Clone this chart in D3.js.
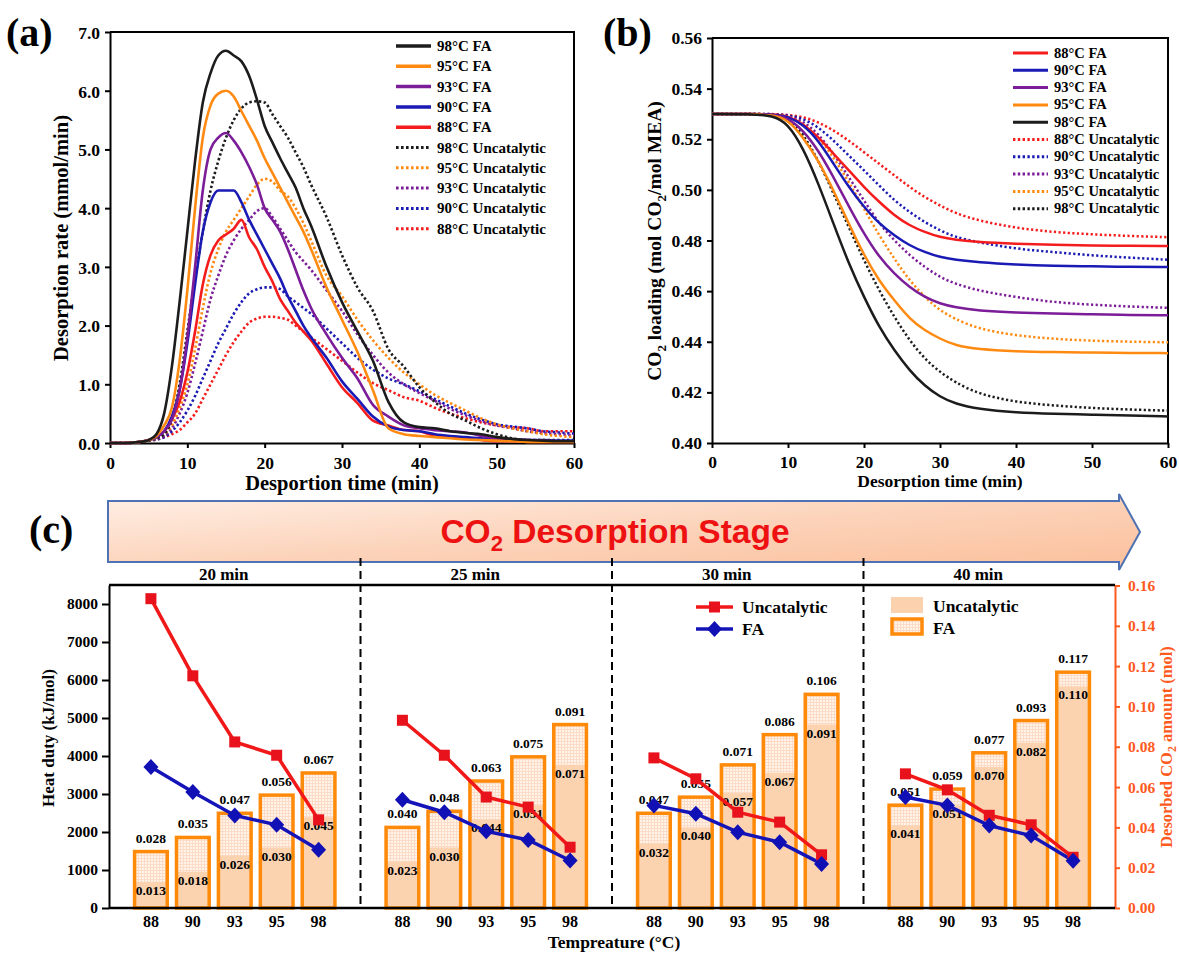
<!DOCTYPE html>
<html><head><meta charset="utf-8">
<script src="https://cdn.jsdelivr.net/npm/d3@7"></script>
<style>body{margin:0;background:#fff}svg{display:block}</style>
</head><body>
<script>
// ---------- Panel (a) data: desorption rate (mmol/min) ----------
const timesA = [0,2,4,5,6,7,8,9,10,11,12,13,14,15,16,17,18,19,20,21,22,23,24,25,26,28,30,32,34,36,38,40,42,44,46,48,50,52,54,56,58,60];
const rateFA98 = [0,0,0.02,0.05,0.15,0.5,1.3,2.4,3.6,4.8,5.8,6.3,6.6,6.68,6.6,6.5,6.25,5.85,5.4,5.12,4.85,4.6,4.35,4.0,3.7,3.0,2.4,1.9,1.4,0.7,0.35,0.27,0.25,0.2,0.17,0.15,0.1,0.07,0.05,0.04,0.03,0.03];
const rateFA95 = [0,0,0.02,0.05,0.12,0.3,0.6,1.4,2.6,4.0,5.2,5.75,5.95,6.0,5.9,5.65,5.4,5.15,4.85,4.6,4.35,4.1,3.85,3.6,3.3,2.65,2.1,1.55,0.9,0.25,0.15,0.12,0.1,0.08,0.06,0.05,0.04,0.03,0.02,0.02,0.02,0.02];
const rateFA93 = [0,0,0.02,0.05,0.1,0.2,0.4,0.9,1.8,3.0,4.3,5.0,5.2,5.28,5.15,4.95,4.7,4.4,4.0,3.8,3.6,3.3,2.95,2.6,2.3,1.85,1.45,1.1,0.65,0.45,0.3,0.25,0.22,0.2,0.18,0.12,0.08,0.06,0.05,0.04,0.03,0.03];
const rateFA90 = [0,0,0.02,0.05,0.1,0.2,0.45,0.9,1.7,2.7,3.6,4.1,4.3,4.3,4.3,4.1,3.8,3.55,3.3,3.05,2.8,2.5,2.25,2.0,1.8,1.45,1.05,0.75,0.45,0.28,0.22,0.2,0.15,0.12,0.1,0.08,0.06,0.06,0.05,0.05,0.04,0.04];
const rateFA88 = [0,0,0.02,0.05,0.1,0.2,0.4,0.7,1.2,1.9,2.7,3.2,3.45,3.55,3.65,3.8,3.5,3.3,3.0,2.75,2.45,2.25,2.05,1.9,1.75,1.35,0.95,0.68,0.38,0.3,0.22,0.2,0.12,0.1,0.08,0.05,0.03,0.03,0.02,0.02,0.02,0.02];
const rateUnc98 = [0,0,0.02,0.04,0.08,0.15,0.4,1.0,1.9,2.8,3.6,4.3,4.8,5.2,5.5,5.7,5.8,5.82,5.8,5.6,5.4,5.2,4.95,4.7,4.4,3.85,3.2,2.65,2.25,1.6,1.3,0.95,0.7,0.5,0.38,0.25,0.15,0.08,0.05,0.05,0.05,0.05];
const rateUnc95 = [0,0,0.02,0.04,0.08,0.15,0.3,0.6,1.0,1.6,2.3,2.9,3.3,3.6,3.8,4.0,4.2,4.4,4.5,4.45,4.3,4.2,4.0,3.75,3.45,2.85,2.5,2.1,1.75,1.45,1.2,1.0,0.82,0.68,0.55,0.42,0.32,0.25,0.2,0.15,0.12,0.1];
const rateUnc93 = [0,0,0.02,0.04,0.07,0.12,0.25,0.5,0.85,1.35,1.9,2.45,2.85,3.2,3.45,3.65,3.8,3.95,4.0,3.85,3.65,3.45,3.25,3.1,2.95,2.6,2.25,1.85,1.5,1.2,1.0,0.85,0.72,0.58,0.47,0.37,0.3,0.25,0.2,0.17,0.15,0.13];
const rateUnc90 = [0,0,0.02,0.04,0.06,0.1,0.2,0.35,0.55,0.8,1.1,1.4,1.7,1.95,2.2,2.4,2.55,2.62,2.65,2.65,2.62,2.5,2.4,2.3,2.2,1.95,1.7,1.45,1.25,1.1,1.0,0.88,0.75,0.62,0.5,0.4,0.32,0.28,0.25,0.2,0.18,0.16];
const rateUnc88 = [0,0,0.02,0.04,0.06,0.1,0.15,0.22,0.35,0.5,0.75,1.0,1.25,1.5,1.72,1.9,2.05,2.12,2.15,2.15,2.13,2.1,2.0,1.9,1.8,1.6,1.4,1.2,1.02,0.9,0.78,0.72,0.6,0.5,0.42,0.35,0.3,0.27,0.25,0.2,0.2,0.2];
const ticksAx = [0,10,20,30,40,50,60];
const ticksAy = [0,1,2,3,4,5,6,7];

// ---------- Panel (b) data: CO2 loading ----------
const timesB = [0,5,8,10,12,14,16,18,20,22,24,26,28,30,32,35,40,45,50,55,60];
const loadFA88 = [0.53,0.53,0.5298,0.5292,0.5261,0.5208,0.5143,0.5077,0.5011,0.4952,0.4899,0.4859,0.4833,0.4813,0.4803,0.4793,0.4787,0.4783,0.478,0.4779,0.4778];
const loadFA90 = [0.53,0.53,0.5298,0.5291,0.5258,0.5195,0.5103,0.5011,0.4932,0.4866,0.482,0.478,0.4754,0.4734,0.4724,0.4714,0.4705,0.47,0.4698,0.4696,0.4695];
const loadFA93 = [0.53,0.53,0.5297,0.5285,0.5235,0.5156,0.505,0.4935,0.4826,0.4734,0.4668,0.4615,0.4576,0.455,0.4536,0.4523,0.4515,0.4511,0.4508,0.4506,0.4505];
const loadFA95 = [0.53,0.53,0.5296,0.5278,0.5208,0.5116,0.4998,0.4866,0.4742,0.464,0.4563,0.449,0.4444,0.4412,0.4385,0.437,0.4362,0.4359,0.4357,0.4356,0.4355];
const loadFA98 = [0.53,0.53,0.5294,0.5262,0.5165,0.5025,0.4865,0.4708,0.4576,0.4457,0.4365,0.4286,0.4225,0.4182,0.4155,0.4134,0.412,0.4115,0.4112,0.4108,0.4105];
const loadUnc88 = [0.53,0.53,0.53,0.5297,0.5288,0.5268,0.5235,0.5195,0.5149,0.5103,0.5057,0.5011,0.4971,0.4938,0.4908,0.4879,0.4849,0.4833,0.4824,0.4818,0.4813];
const loadUnc90 = [0.53,0.53,0.53,0.5295,0.5282,0.5248,0.5195,0.5136,0.5077,0.5017,0.4958,0.4912,0.4872,0.484,0.4813,0.4793,0.4767,0.4754,0.4741,0.4732,0.4724];
const loadUnc93 = [0.53,0.53,0.5299,0.5293,0.5272,0.5222,0.5143,0.505,0.4958,0.4866,0.48,0.4741,0.4695,0.4655,0.4629,0.4602,0.4576,0.4556,0.4546,0.4539,0.4534];
const loadUnc95 = [0.53,0.53,0.5299,0.5291,0.5261,0.5208,0.5129,0.5031,0.4925,0.482,0.4727,0.4642,0.4576,0.4523,0.449,0.4451,0.4424,0.4411,0.4404,0.44,0.4398];
const loadUnc98 = [0.53,0.53,0.5298,0.5285,0.5222,0.5116,0.4985,0.4853,0.4721,0.4602,0.4497,0.4405,0.4332,0.428,0.424,0.4194,0.4161,0.4148,0.4138,0.4132,0.4128];
const ticksBx = [0,10,20,30,40,50,60];
const ticksBy = [0.40,0.42,0.44,0.46,0.48,0.50,0.52,0.54,0.56];

// ---------- Panel (c) data ----------
const groups = ["20 min","25 min","30 min","40 min"];
const temps = ["88","90","93","95","98"];
const heatUnc = [[8140,6110,4370,4020,2320],[4940,4020,2920,2655,1600],[3950,3400,2520,2260,1400],[3530,3110,2440,2190,1335]];
const heatFA  = [[3710,3050,2435,2190,1530],[2850,2520,2020,1790,1250],[2700,2480,1995,1730,1160],[2920,2700,2170,1905,1245]];
const amountFA  = [[0.028,0.035,0.047,0.056,0.067],[0.040,0.048,0.063,0.075,0.091],[0.047,0.055,0.071,0.086,0.106],[0.051,0.059,0.077,0.093,0.117]];
const amountUnc = [[0.013,0.018,0.026,0.030,0.045],[0.023,0.030,0.044,0.051,0.071],[0.032,0.040,0.057,0.067,0.091],[0.041,0.051,0.070,0.082,0.110]];
const ticksHeat = [0,1000,2000,3000,4000,5000,6000,7000,8000];
const ticksAmount = [0,0.02,0.04,0.06,0.08,0.10,0.12,0.14,0.16];

// ---------- styles ----------
const serif = "'Liberation Serif','Times New Roman',Times,serif";
const sans = "'Liberation Sans',Arial,Helvetica,sans-serif";
const colorOf = {"98":"#1c1c1c","95":"#ff8a12","93":"#7b1c98","90":"#1a1ab4","88":"#f41c1c"};
const orangeAxis = "#ff5a1e";

const svg = d3.select("body").append("svg").attr("width",1179).attr("height",953)
  .style("font-family",serif).style("font-weight","bold");

const defs = svg.append("defs");
const pat = defs.append("pattern").attr("id","grid").attr("width",3).attr("height",3).attr("patternUnits","userSpaceOnUse");
pat.append("rect").attr("width",3).attr("height",3).attr("fill","#fff3ea");
pat.append("path").attr("d","M0 0.5H3M0.5 0V3").attr("stroke","#fcdcc6").attr("stroke-width",1);
const grad = defs.append("linearGradient").attr("id","bannerGrad").attr("x1","0").attr("y1","0").attr("x2","1").attr("y2","1");
grad.append("stop").attr("offset","0").attr("stop-color","#fff0e7");
grad.append("stop").attr("offset","0.5").attr("stop-color","#fcd3ba");
grad.append("stop").attr("offset","1").attr("stop-color","#fbbf9a");

function styleAxis(g, size, color){
  g.attr("font-family",serif).attr("font-weight","bold").attr("font-size",size);
  g.select("path.domain").attr("stroke",color).attr("stroke-width",2);
  g.selectAll(".tick line").attr("stroke",color).attr("stroke-width",2);
  g.selectAll(".tick text").attr("fill",color);
}
function subText(sel, parts, subSize, shift){
  parts.forEach(p=>{
    if(p.sub){ sel.append("tspan").attr("font-size",subSize).attr("dy",shift).text(p.t); }
    else if(p.after){ sel.append("tspan").attr("dy",-shift).text(p.t); }
    else sel.append("tspan").text(p.t);
  });
}

// ================= Panel (a) =================
const xA = d3.scaleLinear().domain([0,60]).range([110,574]);
const yA = d3.scaleLinear().domain([0,7]).range([443,32]);
const gA = svg.append("g");
gA.append("g").attr("transform","translate(0,443)")
  .call(d3.axisBottom(xA).tickValues(ticksAx).tickFormat(d3.format("d")).tickSize(5).tickSizeOuter(0).tickPadding(9))
  .call(g=>styleAxis(g,17.5,"#000"));
gA.append("g").attr("transform","translate(110,0)")
  .call(d3.axisLeft(yA).tickValues(ticksAy).tickFormat(d3.format(".1f")).tickSize(5).tickSizeOuter(0).tickPadding(5))
  .call(g=>styleAxis(g,17.5,"#000"))
  .selectAll(".tick text").attr("dy","0.36em");
gA.append("path").attr("d",`M${xA(0)},${yA(7)}H${xA(60)}V${yA(0)}`).attr("fill","none").attr("stroke","#000").attr("stroke-width",2);

const seriesA = [
  {t:"98",k:"FA",v:rateFA98},{t:"95",k:"FA",v:rateFA95},{t:"93",k:"FA",v:rateFA93},{t:"90",k:"FA",v:rateFA90},{t:"88",k:"FA",v:rateFA88},
  {t:"98",k:"Uncatalytic",v:rateUnc98},{t:"95",k:"Uncatalytic",v:rateUnc95},{t:"93",k:"Uncatalytic",v:rateUnc93},{t:"90",k:"Uncatalytic",v:rateUnc90},{t:"88",k:"Uncatalytic",v:rateUnc88}
];
const lineA = d3.line().x((d,i)=>xA(timesA[i])).y(d=>yA(d)).curve(d3.curveMonotoneX);
const drawOrderA = [...seriesA.slice(5).reverse(), ...seriesA.slice(0,5).reverse()];
gA.selectAll("path.curve").data(drawOrderA).join("path").attr("class","curve")
  .attr("d",s=>lineA(s.v)).attr("fill","none").attr("stroke",s=>colorOf[s.t])
  .attr("stroke-width",2.6)
  .attr("stroke-dasharray",s=>s.k==="FA"?null:"2.4,2.4");

const legA = gA.append("g");
seriesA.forEach((s,i)=>{
  const y = 46 + i*20.3;
  legA.append("line").attr("x1",396).attr("x2",431).attr("y1",y).attr("y2",y)
    .attr("stroke",colorOf[s.t]).attr("stroke-width",s.k==="FA"?3.5:3)
    .attr("stroke-dasharray",s.k==="FA"?null:"2.6,2.4");
  legA.append("text").attr("x",437).attr("y",y+5).attr("font-size",15).text(`${s.t}°C ${s.k}`);
});
gA.append("text").attr("x",xA(30)).attr("y",490).attr("text-anchor","middle").attr("font-size",20.5).text("Desportion time (min)");
gA.append("text").attr("transform","translate(68,238) rotate(-90)").attr("text-anchor","middle").attr("font-size",20.5).text("Desorption rate (mmol/min)");
svg.append("text").attr("x",6).attr("y",46).attr("font-size",40).text("(a)");

// ================= Panel (b) =================
const xB = d3.scaleLinear().domain([0,60]).range([712,1168]);
const yB = d3.scaleLinear().domain([0.40,0.56]).range([443,38]);
const gB = svg.append("g");
gB.append("g").attr("transform","translate(0,443)")
  .call(d3.axisBottom(xB).tickValues(ticksBx).tickFormat(d3.format("d")).tickSize(5).tickSizeOuter(0).tickPadding(8))
  .call(g=>styleAxis(g,17.5,"#000"));
gB.append("g").attr("transform","translate(712,0)")
  .call(d3.axisLeft(yB).tickValues(ticksBy).tickFormat(d3.format(".2f")).tickSize(5).tickSizeOuter(0).tickPadding(5))
  .call(g=>styleAxis(g,17.5,"#000"));
gB.append("path").attr("d",`M${xB(0)},${yB(0.56)}H${xB(60)}V${yB(0.40)}`).attr("fill","none").attr("stroke","#000").attr("stroke-width",2);

const seriesB = [
  {t:"88",k:"FA",v:loadFA88},{t:"90",k:"FA",v:loadFA90},{t:"93",k:"FA",v:loadFA93},{t:"95",k:"FA",v:loadFA95},{t:"98",k:"FA",v:loadFA98},
  {t:"88",k:"Uncatalytic",v:loadUnc88},{t:"90",k:"Uncatalytic",v:loadUnc90},{t:"93",k:"Uncatalytic",v:loadUnc93},{t:"95",k:"Uncatalytic",v:loadUnc95},{t:"98",k:"Uncatalytic",v:loadUnc98}
];
const lineB = d3.line().x((d,i)=>xB(timesB[i])).y(d=>yB(d)).curve(d3.curveBasis);
gB.selectAll("path.curve").data([...seriesB.slice(5), ...seriesB.slice(0,5)]).join("path").attr("class","curve")
  .attr("d",s=>lineB(s.v)).attr("fill","none").attr("stroke",s=>colorOf[s.t])
  .attr("stroke-width",2.5).attr("stroke-dasharray",s=>s.k==="FA"?null:"2.2,2.4");
const legB = gB.append("g");
seriesB.forEach((s,i)=>{
  const y = 53 + i*17.3;
  legB.append("line").attr("x1",1013).attr("x2",1048).attr("y1",y).attr("y2",y)
    .attr("stroke",colorOf[s.t]).attr("stroke-width",3)
    .attr("stroke-dasharray",s.k==="FA"?null:"2.4,2.4");
  legB.append("text").attr("x",1054).attr("y",y+4.5).attr("font-size",14.5).text(`${s.t}°C ${s.k}`);
});
gB.append("text").attr("x",xB(30)).attr("y",487).attr("text-anchor","middle").attr("font-size",17.5).text("Desorption time (min)");
gB.append("text").attr("transform","translate(661,241) rotate(-90)").attr("text-anchor","middle").attr("font-size",19.5)
  .call(t=>subText(t,[{t:"CO"},{t:"2",sub:true},{t:" loading (mol CO",after:true},{t:"2",sub:true},{t:"/mol MEA)",after:true}],13,5));
svg.append("text").attr("x",603).attr("y",46).attr("font-size",40).text("(b)");

// ================= Panel (c) =================
svg.append("text").attr("x",29).attr("y",543).attr("font-size",40).text("(c)");
svg.append("path").attr("d","M108,501H1119V494L1140,532L1119,570V562H108Z")
  .attr("fill","url(#bannerGrad)").attr("stroke","#4e72b4").attr("stroke-width",2);
svg.append("text").attr("x",615).attr("y",543).attr("text-anchor","middle")
  .style("font-family",sans).attr("font-size",33.5).attr("fill","#ee1111")
  .call(t=>subText(t,[{t:"CO"},{t:"2",sub:true},{t:" Desorption Stage",after:true}],22,8));

const xG = d3.scaleBand().domain(groups).range([109,1115]);
const xT = d3.scalePoint().domain(temps).range([0,xG.bandwidth()]).padding(1);
const yL = d3.scaleLinear().domain([0,8500]).range([908,585]);
const yR = d3.scaleLinear().domain([0,0.16]).range([908,585.5]);
const gC = svg.append("g");
const barW = xT.step()*0.78;

groups.forEach((g,gi)=>{
  const gx = xG(g);
  temps.forEach((t,ti)=>{
    const cx = gx + xT(t);
    const fa = amountFA[gi][ti], un = amountUnc[gi][ti];
    gC.append("rect").attr("x",cx-barW/2).attr("y",yR(fa)).attr("width",barW).attr("height",yR(0)-yR(fa)).attr("fill","url(#grid)");
    gC.append("rect").attr("x",cx-barW/2).attr("y",yR(un)).attr("width",barW).attr("height",yR(0)-yR(un)).attr("fill","#fcd1ae").attr("opacity",0.95);
    gC.append("rect").attr("x",cx-barW/2).attr("y",yR(fa)).attr("width",barW).attr("height",yR(0)-yR(fa))
      .attr("fill","none").attr("stroke","#ff8a0a").attr("stroke-width",3.5);
    gC.append("text").attr("x",cx).attr("y",yR(fa)-9).attr("text-anchor","middle").attr("font-size",13.5).text(d3.format(".3f")(fa));
    gC.append("text").attr("x",cx).attr("y",yR(un)+13).attr("text-anchor","middle").attr("font-size",13.5).text(d3.format(".3f")(un));
  });
  gC.append("text").attr("x",gx+xG.bandwidth()/2-11).attr("y",580).attr("text-anchor","middle").attr("font-size",17).text(g);
  temps.forEach(t=>{
    gC.append("text").attr("x",gx+xT(t)).attr("y",927).attr("text-anchor","middle").attr("font-size",16).text(t);
  });
});

groups.slice(1).forEach(g=>{
  gC.append("line").attr("x1",xG(g)).attr("x2",xG(g)).attr("y1",558).attr("y2",908)
    .attr("stroke","#000").attr("stroke-width",2).attr("stroke-dasharray","8,5");
});

const sq = 11;
groups.forEach((g,gi)=>{
  const gx = xG(g);
  const lineC = d3.line().x((d,i)=>gx+xT(temps[i])).y(d=>yL(d));
  gC.append("path").attr("d",lineC(heatUnc[gi])).attr("fill","none").attr("stroke","#f01818").attr("stroke-width",3.5);
  gC.append("path").attr("d",lineC(heatFA[gi])).attr("fill","none").attr("stroke","#1414b8").attr("stroke-width",3.5);
  heatUnc[gi].forEach((v,i)=>{
    gC.append("rect").attr("x",gx+xT(temps[i])-sq/2).attr("y",yL(v)-sq/2).attr("width",sq).attr("height",sq).attr("fill","#e8121c");
  });
  heatFA[gi].forEach((v,i)=>{
    const x=gx+xT(temps[i]), y=yL(v);
    gC.append("path").attr("d",`M${x},${y-8}L${x+7.5},${y}L${x},${y+8}L${x-7.5},${y}Z`).attr("fill","#1010b4");
  });
});

gC.append("g").attr("transform","translate(109,0)")
  .call(d3.axisLeft(yL).tickValues(ticksHeat).tickFormat(d3.format("d")).tickSize(7).tickSizeOuter(0).tickPadding(4))
  .call(g=>styleAxis(g,15.5,"#000"));
gC.append("g").attr("transform","translate(1115,0)")
  .call(d3.axisRight(yR).tickValues(ticksAmount).tickFormat(d3.format(".2f")).tickSize(5).tickSizeOuter(0).tickPadding(8))
  .call(g=>styleAxis(g,15.5,orangeAxis));
gC.append("line").attr("x1",109).attr("x2",1115).attr("y1",908).attr("y2",908).attr("stroke","#000").attr("stroke-width",2.5);
gC.append("line").attr("x1",109).attr("x2",1115).attr("y1",585).attr("y2",585).attr("stroke","#000").attr("stroke-width",2.5);

gC.append("text").attr("transform","translate(54,738) rotate(-90)").attr("text-anchor","middle").attr("font-size",17).text("Heat duty (kJ/mol)");
gC.append("text").attr("transform","translate(1172,747) rotate(-90)").attr("text-anchor","middle").attr("font-size",16.5).attr("fill",orangeAxis)
  .call(t=>subText(t,[{t:"Desorbed CO"},{t:"2",sub:true},{t:" amount (mol)",after:true}],12,4));
gC.append("text").attr("x",614).attr("y",948).attr("text-anchor","middle").attr("font-size",17.5).text("Tempreature (°C)");

const legL = gC.append("g");
legL.append("line").attr("x1",696).attr("x2",733).attr("y1",607).attr("y2",607).attr("stroke","#f01818").attr("stroke-width",3.5);
legL.append("rect").attr("x",714.5-sq/2).attr("y",607-sq/2).attr("width",sq).attr("height",sq).attr("fill","#e8121c");
legL.append("text").attr("x",742).attr("y",613).attr("font-size",17.5).text("Uncatalytic");
legL.append("line").attr("x1",696).attr("x2",733).attr("y1",629).attr("y2",629).attr("stroke","#1414b8").attr("stroke-width",3.5);
legL.append("path").attr("d","M714.5,621L722,629L714.5,637L707,629Z").attr("fill","#1010b4");
legL.append("text").attr("x",742).attr("y",635).attr("font-size",17.5).text("FA");
const legBar = gC.append("g");
legBar.append("rect").attr("x",891).attr("y",597).attr("width",32).attr("height",16).attr("fill","#fcd1ae");
legBar.append("text").attr("x",933).attr("y",612).attr("font-size",17.5).text("Uncatalytic");
legBar.append("rect").attr("x",892).attr("y",619).attr("width",30).attr("height",15).attr("fill","url(#grid)").attr("stroke","#ff8a0a").attr("stroke-width",3.5);
legBar.append("text").attr("x",933).attr("y",634).attr("font-size",17.5).text("FA");
</script>
</body></html>
